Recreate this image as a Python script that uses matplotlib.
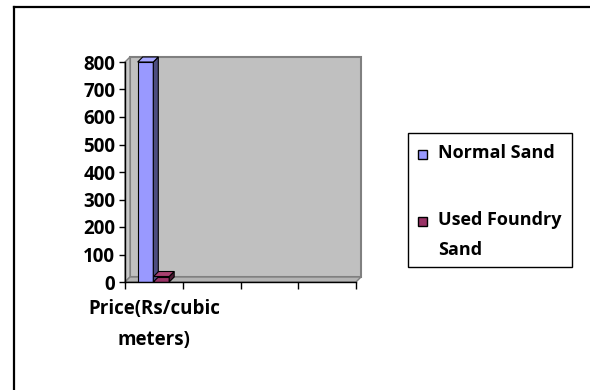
import matplotlib
matplotlib.use("Agg")
import matplotlib.pyplot as plt
from matplotlib.patches import Polygon, Rectangle
from matplotlib.lines import Line2D
from matplotlib.transforms import IdentityTransform

categories = ["Price(Rs/cubic\nmeters)", "", "", ""]
series_names = ["Normal Sand", "Used Foundry\nSand"]
normal_sand = [800]
used_foundry_sand = [20]
y_ticks = [0, 100, 200, 300, 400, 500, 600, 700, 800]

FONT = "Open Sans"
W, H, DPI = 590, 390, 100

fig = plt.figure(figsize=(W / DPI, H / DPI), dpi=DPI)
ax = fig.add_axes([125 / W, 1 - 282 / H, 231 / W, 220 / H])
ax.set_xlim(0, len(categories))
ax.set_ylim(0, 800)
ax.set_facecolor("none")
for side in ("top", "right"):
    ax.spines[side].set_visible(False)
for side in ("left", "bottom"):
    ax.spines[side].set_linewidth(1.0)
    ax.spines[side].set_zorder(6)

fig.canvas.draw()


def to_px(x, y, dx=0.0, dy=0.0):
    px, py = ax.transData.transform((x, y))
    return (px + dx, py + dy)


def face(points, color, edge, z, lw=0.8):
    fig.add_artist(Polygon(points, closed=True, facecolor=color, edgecolor=edge,
                           linewidth=lw, transform=IdentityTransform(), zorder=z))


# walls and floor of the 3-D frame
depth = 5
n = len(categories)
face([to_px(0, 0, depth, depth), to_px(n, 0, depth, depth),
      to_px(n, 800, depth, depth), to_px(0, 800, depth, depth)],
     "#c0c0c0", "#808080", 1, lw=1.5)
face([to_px(0, 0), to_px(0, 800), to_px(0, 800, depth, depth), to_px(0, 0, depth, depth)],
     "#c8c8c8", "#808080", 2, lw=1.0)
face([to_px(0, 0), to_px(n, 0), to_px(n, 0, depth, depth), to_px(0, 0, depth, depth)],
     "#b4b4b4", "#808080", 2, lw=1.0)

# columns with side and top faces
bar_w = 0.27
bar_depth = 5
series = [
    (normal_sand, 0.22, "#9999ff", "#4d4d80", "#a8a8ff"),
    (used_foundry_sand, 0.495, "#993366", "#4d1a33", "#a8406f"),
]
for values, offset, front, side_col, top_col in series:
    xs = [i + offset for i in range(len(values))]
    ax.bar(xs, values, width=bar_w, align="edge", color=front,
           edgecolor="black", linewidth=0.8, zorder=5)
    for x0, v in zip(xs, values):
        x1 = x0 + bar_w
        face([to_px(x1, 0), to_px(x1, v), to_px(x1, v, bar_depth, bar_depth),
              to_px(x1, 0, bar_depth, bar_depth)], side_col, "black", 4)
        face([to_px(x0, v), to_px(x1, v), to_px(x1, v, bar_depth, bar_depth),
              to_px(x0, v, bar_depth, bar_depth)], top_col, "black", 4)

ax.set_zorder(3)

ax.set_yticks(y_ticks)
ax.set_yticklabels([str(t) for t in y_ticks], fontfamily=FONT,
                   fontweight="bold", fontsize=13.5)
ax.tick_params(axis="y", length=4, width=1.0, pad=3, direction="out")

ax.set_xticks([i + 0.5 for i in range(n)])
ax.set_xticklabels(categories, fontfamily=FONT, fontweight="bold",
                   fontsize=13.5, linespacing=1.75)
ax.set_xticks(range(n + 1), minor=True)
ax.tick_params(axis="x", which="major", length=0, pad=12)
ax.tick_params(axis="x", which="minor", length=5, width=1.0, direction="out")

# legend box drawn in pixel space
leg_left, leg_top, leg_right, leg_bottom = 408, 133, 572, 267
fig.add_artist(Rectangle((leg_left, H - leg_bottom), leg_right - leg_left,
                         leg_bottom - leg_top, facecolor="white", edgecolor="black",
                         linewidth=1.0, transform=IdentityTransform(), zorder=7))
entry_rows = [154, 221]
colors = ["#9999ff", "#993366"]
for name, row, col in zip(series_names, entry_rows, colors):
    fig.add_artist(Rectangle((418, H - row - 5), 9, 9, facecolor=col,
                             edgecolor="black", linewidth=1.0,
                             transform=IdentityTransform(), zorder=8))
    fig.text(438 / W, 1 - (row - 10) / H, name, fontfamily=FONT, fontweight="bold",
             fontsize=13, ha="left", va="top", linespacing=1.85, zorder=8)

# chart area border
fig.add_artist(Line2D([14 / W, 14 / W], [0, 1 - 7 / H], color="black", linewidth=1.6))
fig.add_artist(Line2D([14 / W, 1], [1 - 7 / H, 1 - 7 / H], color="black", linewidth=1.6))

fig.savefig("out.png", dpi=DPI, facecolor="white")
